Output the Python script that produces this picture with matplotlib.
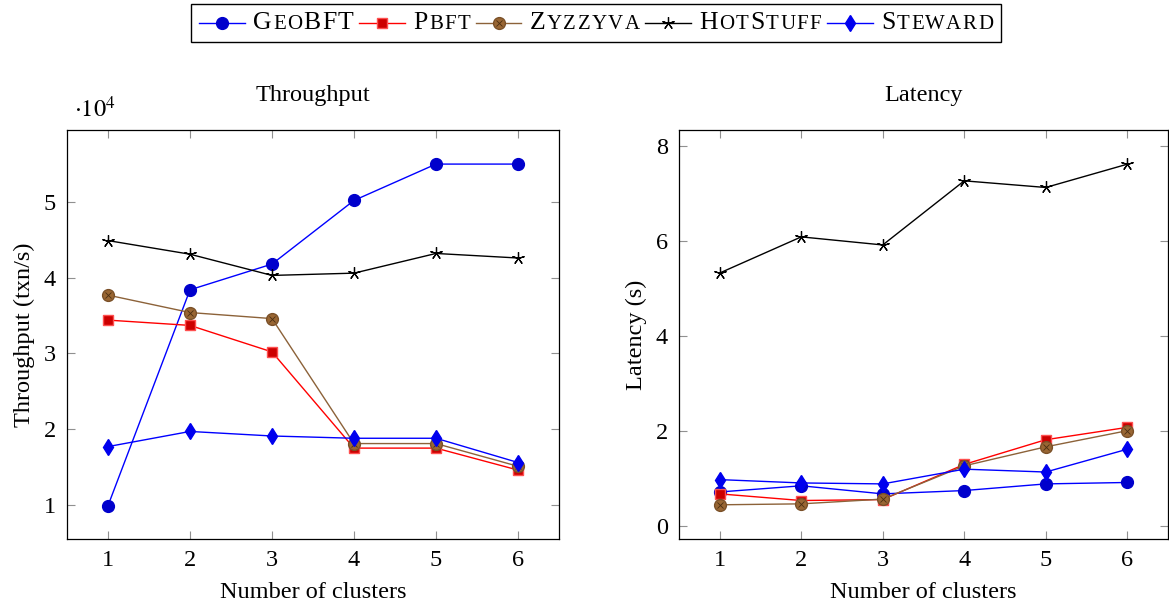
import matplotlib
matplotlib.use("Agg")
import matplotlib.pyplot as plt
from matplotlib.lines import Line2D
from matplotlib.offsetbox import AnchoredOffsetbox, DrawingArea, HPacker, TextArea

plt.rcParams["font.family"] = ["Liberation Serif", "DejaVu Serif"]
plt.rcParams["mathtext.fontset"] = "stix"

FS = 17.5  # axes text size
FS_BIG = 18.5  # legend capitals
FS_SMALL = 15  # legend small caps
LETTER_SEP = 1.0  # extra spacing between legend letters (pt)

clusters = [1, 2, 3, 4, 5, 6]

# Throughput (txn/s)
tp_geobft = [9900, 38400, 41800, 50200, 55000, 55000]
tp_pbft = [34400, 33700, 30200, 17500, 17500, 14600]
tp_zyzzyva = [37700, 35400, 34600, 18100, 18100, 15100]
tp_hotstuff = [44900, 43100, 40300, 40600, 43200, 42600]
tp_steward = [17700, 19700, 19100, 18800, 18800, 15600]

# Latency (s)
lat_geobft = [0.71, 0.84, 0.67, 0.74, 0.88, 0.91]
lat_pbft = [0.67, 0.53, 0.55, 1.29, 1.81, 2.07]
lat_zyzzyva = [0.44, 0.46, 0.56, 1.26, 1.66, 2.00]
lat_hotstuff = [5.32, 6.08, 5.91, 7.26, 7.12, 7.61]
lat_steward = [0.97, 0.90, 0.88, 1.19, 1.13, 1.61]

# name pieces: (text, small caps?)
names = [
    [("G", False), ("EO", True), ("BFT", False)],
    [("P", False), ("BFT", True)],
    [("Z", False), ("YZZYVA", True)],
    [("H", False), ("OT", True), ("S", False), ("TUFF", True)],
    [("S", False), ("TEWARD", True)],
]

styles = [
    dict(color="#0000ff", marker="o", ms=8.5, mfc="#0000cc", mec="#0000cc"),
    dict(color="#ff0000", marker="s", ms=7.5, mfc="#cc0000", mec="#ff5050", mew=1.0),
    dict(color="#8c6239", marker="o", ms=8.5, mfc="#996633", mec="#7a5028"),
    dict(color="#000000", marker=(5, 2, 0), ms=9, mfc="none", mec="#000000", mew=0.9),
    dict(color="#0000ff", marker="d", ms=8.5, mfc="#0000ee", mec="#0000ee"),
]


def draw(ax, series, scale=1.0):
    for i, ys in enumerate(series):
        st = styles[i]
        ax.plot(clusters, [v / scale for v in ys], lw=1.0, zorder=2 + i, **st)
        if i == 2:
            ax.plot(clusters, [v / scale for v in ys], ls="none", marker="x", ms=5,
                    mew=0.6, color="#4a2e12", zorder=2 + i)


def style_axes(ax):
    ax.set_xlim(0.5, 6.5)
    ax.set_xticks(clusters)
    ax.tick_params(direction="in", length=6, width=0.8, color="#909090",
                   top=True, right=True, labelsize=FS, pad=8)
    for s in ax.spines.values():
        s.set_linewidth(0.9)
        s.set_color("black")
    ax.set_xlabel("Number of clusters", fontsize=FS, labelpad=8)


fig = plt.figure(figsize=(11.69, 6.07), dpi=100)
ax1 = fig.add_axes([67 / 1169, 68 / 607, 492 / 1169, 409 / 607])
ax2 = fig.add_axes([679 / 1169, 68 / 607, 489 / 1169, 409 / 607])

draw(ax1, [tp_geobft, tp_pbft, tp_zyzzyva, tp_hotstuff, tp_steward], scale=1e4)
style_axes(ax1)
ax1.set_ylim(0.55, 5.95)
ax1.set_yticks([1, 2, 3, 4, 5])
ax1.set_ylabel("Throughput (txn/s)", fontsize=FS, labelpad=6)
ax1.set_title("Throughput", fontsize=FS, pad=21)
ax1.text(0.015, 1.031, r"$\cdot 10^4$", transform=ax1.transAxes, fontsize=FS,
         ha="left", va="baseline")

draw(ax2, [lat_geobft, lat_pbft, lat_zyzzyva, lat_hotstuff, lat_steward])
style_axes(ax2)
ax2.set_ylim(-0.28, 8.33)
ax2.set_yticks([0, 2, 4, 6, 8])
ax2.set_ylabel("Latency (s)", fontsize=FS, labelpad=6)
ax2.set_title("Latency", fontsize=FS, pad=21)

# legend with small caps labels, built by hand
entries = []
for i, parts in enumerate(names):
    da = DrawingArea(33, 12, 0, 0)
    st = dict(styles[i])
    da.add_artist(Line2D([0, 33], [6, 6], color=st.pop("color"), lw=1.0))
    da.add_artist(Line2D([16.5], [6], ls="none", **st))
    if i == 2:
        da.add_artist(Line2D([16.5], [6], ls="none", marker="x", ms=5, mew=0.6, color="#4a2e12"))
    letters = []
    for t, small in parts:
        for ch in t:
            letters.append(TextArea(ch, textprops=dict(fontsize=FS_SMALL if small else FS_BIG,
                                                       family="Liberation Serif")))
    label = HPacker(children=letters, align="baseline", pad=0, sep=LETTER_SEP)
    entries.append(HPacker(children=[da, label], align="center", pad=0, sep=6))

box = HPacker(children=entries, align="center", pad=0, sep=4)
anch = AnchoredOffsetbox(loc="center", child=box, pad=0.6, borderpad=0, frameon=True,
                         bbox_to_anchor=(596 / 1169, 1 - 23 / 607),
                         bbox_transform=fig.transFigure)
anch.patch.set_boxstyle("square", pad=0)
anch.patch.set_edgecolor("black")
anch.patch.set_linewidth(1.0)
fig.add_artist(anch)

fig.savefig("out.png", dpi=100)
